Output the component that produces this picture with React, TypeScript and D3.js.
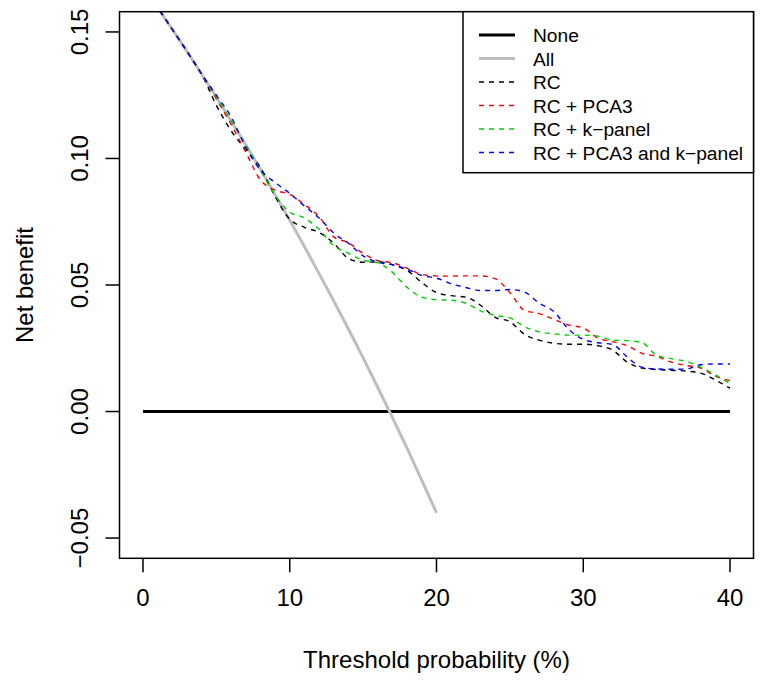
import React from "react";
import * as d3 from "d3";

// Threshold probabilities (%)
const thresholds = [
  0, 1, 2, 3, 4, 5, 6, 7, 8, 9, 10, 11, 12, 13, 14, 15, 16, 17, 18, 19, 20,
  21, 22, 23, 24, 25, 26, 27, 28, 29, 30, 31, 32, 33, 34, 35, 36, 37, 38, 39, 40,
];
const thresholdsAll = [0, 1, 2, 3, 4, 5, 6, 7, 8, 9, 10, 11, 12, 13, 14, 15, 16, 17, 18, 19, 20];
const noneThresholds = [0, 40];
const noneValues = [0, 0];

const allValues = [
  0.168, 0.1596, 0.151, 0.1423, 0.1333, 0.1242, 0.1149, 0.1054, 0.0957, 0.0857, 0.0756,
  0.0652, 0.0545, 0.0437, 0.0326, 0.0212, 0.0095, -0.0024, -0.0146, -0.0272, -0.04,
];

const rcValues = [
  0.168, 0.1596, 0.151, 0.1423, 0.1333, 0.121, 0.111, 0.1035, 0.0965, 0.085, 0.076,
  0.0728, 0.0708, 0.0665, 0.0605, 0.059, 0.0591, 0.058, 0.0557, 0.051, 0.047,
  0.0458, 0.0452, 0.042, 0.0372, 0.0355, 0.0305, 0.0282, 0.027, 0.0266, 0.0266,
  0.026, 0.0243, 0.0195, 0.0172, 0.0166, 0.0163, 0.016, 0.0152, 0.0125, 0.0092,
];
const rcPca3Values = [
  0.168, 0.1596, 0.151, 0.1423, 0.1333, 0.1235, 0.1135, 0.1025, 0.0915, 0.0875, 0.0858,
  0.0818, 0.077, 0.069, 0.0667, 0.0625, 0.0596, 0.0588, 0.0566, 0.0542, 0.0536,
  0.0535, 0.0536, 0.0536, 0.0525, 0.047, 0.0399, 0.0387, 0.0364, 0.0342, 0.033,
  0.029, 0.0276, 0.026, 0.023, 0.0218, 0.0195, 0.0182, 0.0172, 0.014, 0.0122,
];
const rcKpanelValues = [
  0.168, 0.1596, 0.151, 0.1423, 0.1333, 0.1242, 0.1149, 0.1054, 0.0955, 0.0855, 0.0788,
  0.0765, 0.072, 0.0655, 0.0625, 0.0598, 0.0588, 0.055, 0.049, 0.0452, 0.0442,
  0.044, 0.0428, 0.0398, 0.038, 0.037, 0.0335, 0.0315, 0.0307, 0.0302, 0.0302,
  0.0298, 0.0282, 0.028, 0.0272, 0.0222, 0.0209, 0.0198, 0.0175, 0.0145, 0.011,
];
const rcBothValues = [
  0.168, 0.1596, 0.151, 0.1423, 0.1333, 0.125, 0.1165, 0.1045, 0.0955, 0.0905, 0.0862,
  0.0812, 0.0765, 0.0705, 0.0665, 0.0615, 0.059, 0.058, 0.0562, 0.0538, 0.0527,
  0.0505, 0.049, 0.0478, 0.0478, 0.0482, 0.0472, 0.0428, 0.0395, 0.0325, 0.0285,
  0.0272, 0.0265, 0.0215, 0.0175, 0.0168, 0.0167, 0.0168, 0.0185, 0.0188, 0.0188,
];

const xTicks = [0, 10, 20, 30, 40];
const xTickLabels = ["0", "10", "20", "30", "40"];
const yTicks = [-0.05, 0, 0.05, 0.1, 0.15];
const yTickLabels = ["\u22120.05", "0.00", "0.05", "0.10", "0.15"];

const legendLabels = ["None", "All", "RC", "RC + PCA3", "RC + k\u2212panel", "RC + PCA3 and k\u2212panel"];

const FONT = "'Liberation Sans', Arial, Helvetica, sans-serif";

export default function App() {
  const W = 764;
  const H = 683;
  const left = 119.5;
  const right = 753.5;
  const top = 11.7;
  const bottom = 558.3;

  const x = d3.scaleLinear().domain([-1.6, 41.6]).range([left, right]);
  const y = d3.scaleLinear().domain([-0.058, 0.158]).range([bottom, top]);

  const lineGen = d3
    .line<[number, number]>()
    .x((d) => x(d[0]))
    .y((d) => y(d[1]))
    .curve(d3.curveMonotoneX);
  const straight = d3
    .line<[number, number]>()
    .x((d) => x(d[0]))
    .y((d) => y(d[1]));

  const zip = (xs: number[], ys: number[]) => xs.map((v, i) => [v, ys[i]] as [number, number]);

  const models = [
    { values: rcValues, color: "#000000" },
    { values: rcPca3Values, color: "#FF0000" },
    { values: rcKpanelValues, color: "#00CD00" },
    { values: rcBothValues, color: "#0000FF" },
  ];

  const legendItems = [
    { label: legendLabels[0], color: "#000000", width: 3, dash: undefined },
    { label: legendLabels[1], color: "#BEBEBE", width: 3, dash: undefined },
    { label: legendLabels[2], color: "#000000", width: 1.4, dash: "5 5" },
    { label: legendLabels[3], color: "#FF0000", width: 1.4, dash: "5 5" },
    { label: legendLabels[4], color: "#00CD00", width: 1.4, dash: "5 5" },
    { label: legendLabels[5], color: "#0000FF", width: 1.4, dash: "5 5" },
  ];

  const legendTop = top;
  const legendLeft = 463;
  const legendH = 161;
  const firstY = 35;
  const stepY = 23.5;

  return (
    <svg
      width={W}
      height={H}
      style={{ position: "absolute", left: 0, top: 0, display: "block", background: "#fff" }}
      fontFamily={FONT}
    >
      <defs>
        <clipPath id="plotClip">
          <rect x={left} y={top} width={right - left} height={bottom - top} />
        </clipPath>
      </defs>
      <rect x={0} y={0} width={W} height={H} fill="#fff" />

      <g clipPath="url(#plotClip)">
        <path
          d={straight(zip(noneThresholds, noneValues)) || ""}
          fill="none"
          stroke="#000"
          strokeWidth={3}
        />
        <path
          d={straight(zip(thresholdsAll, allValues)) || ""}
          fill="none"
          stroke="#BEBEBE"
          strokeWidth={3}
        />
        {models.map((m, i) => (
          <path
            key={i}
            d={lineGen(zip(thresholds, m.values)) || ""}
            fill="none"
            stroke={m.color}
            strokeWidth={1.4}
            strokeDasharray="5 5"
          />
        ))}
      </g>

      {/* plot box */}
      <rect
        x={left}
        y={top}
        width={right - left}
        height={bottom - top}
        fill="none"
        stroke="#000"
        strokeWidth={1.5}
      />

      {/* x axis */}
      {xTicks.map((t, i) => (
        <g key={"x" + i}>
          <line x1={x(t)} x2={x(t)} y1={bottom} y2={bottom + 14} stroke="#000" strokeWidth={1.5} />
          <text x={x(t)} y={606} fontSize={24} textAnchor="middle" fill="#000">
            {xTickLabels[i]}
          </text>
        </g>
      ))}
      <text x={(left + right) / 2} y={668} fontSize={24} textAnchor="middle" fill="#000">
        Threshold probability (%)
      </text>

      {/* y axis */}
      {yTicks.map((t, i) => (
        <g key={"y" + i}>
          <line x1={left - 14} x2={left} y1={y(t)} y2={y(t)} stroke="#000" strokeWidth={1.5} />
          <text
            transform={`translate(${88},${y(t)}) rotate(-90)`}
            fontSize={24}
            textAnchor="middle"
            fill="#000"
          >
            {yTickLabels[i]}
          </text>
        </g>
      ))}
      <text
        transform={`translate(${33},${(top + bottom) / 2}) rotate(-90)`}
        fontSize={24}
        textAnchor="middle"
        fill="#000"
      >
        Net benefit
      </text>

      {/* legend */}
      <rect
        x={legendLeft}
        y={legendTop}
        width={right - legendLeft}
        height={legendH}
        fill="#fff"
        stroke="#000"
        strokeWidth={1.5}
      />
      {legendItems.map((it, i) => {
        const cy = firstY + i * stepY;
        return (
          <g key={"l" + i}>
            <line
              x1={479}
              x2={515}
              y1={cy}
              y2={cy}
              stroke={it.color}
              strokeWidth={it.width}
              strokeDasharray={it.dash}
            />
            <text x={533} y={cy + 7} fontSize={19.2} fill="#000">
              {it.label}
            </text>
          </g>
        );
      })}
    </svg>
  );
}
